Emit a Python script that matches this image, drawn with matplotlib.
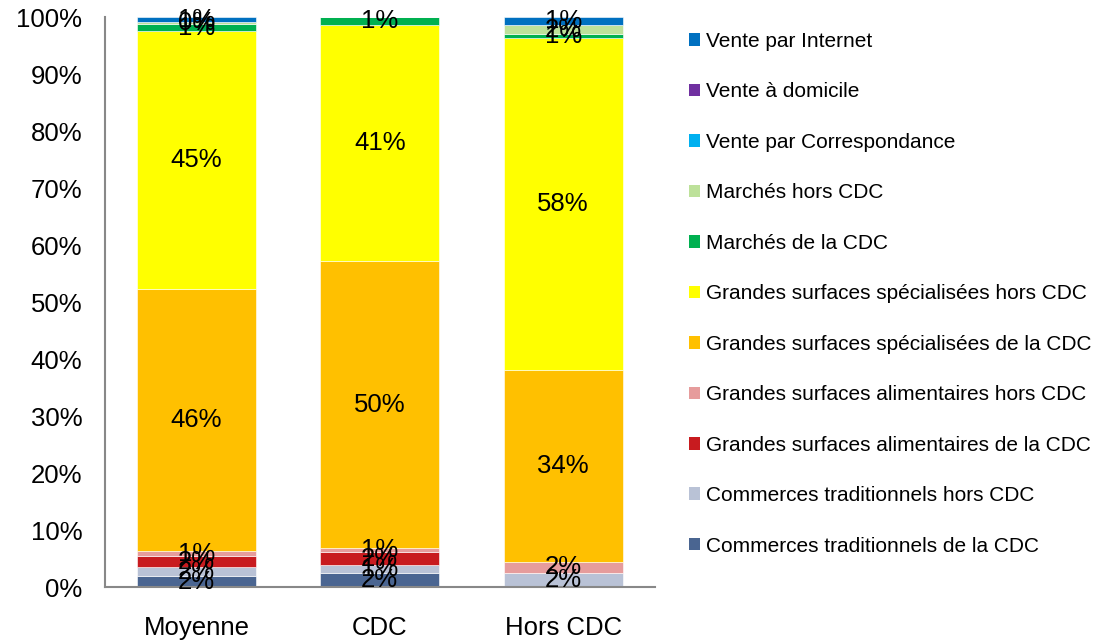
import numpy as np
import matplotlib
matplotlib.use("Agg")
import matplotlib.pyplot as plt
from matplotlib.patches import Patch

plt.rcParams['font.family'] = ['Liberation Sans', 'DejaVu Sans']

categories = ["Moyenne", "CDC", "Hors CDC"]

# parts de marché (%) par circuit, de bas en haut de la pile
trad_cdc = [1.9, 2.4, 0.0]
trad_hors = [1.6, 1.4, 2.5]
alim_cdc = [1.9, 2.4, 0.0]
alim_hors = [0.9, 0.6, 1.9]
spec_cdc = [45.9, 50.4, 33.6]
spec_hors = [45.4, 41.4, 58.4]
marches_cdc = [1.1, 1.4, 0.6]
marches_hors = [0.4, 0.0, 1.6]
vpc = [0.0, 0.0, 0.0]
domicile = [0.0, 0.0, 0.0]
internet = [0.9, 0.0, 1.4]

series_names = [
    "Commerces traditionnels de la CDC",
    "Commerces traditionnels hors CDC",
    "Grandes surfaces alimentaires de la CDC",
    "Grandes surfaces alimentaires hors CDC",
    "Grandes surfaces spécialisées de la CDC",
    "Grandes surfaces spécialisées hors CDC",
    "Marchés de la CDC",
    "Marchés hors CDC",
    "Vente par Correspondance",
    "Vente à domicile",
    "Vente par Internet",
]
series_values = [trad_cdc, trad_hors, alim_cdc, alim_hors, spec_cdc, spec_hors,
                 marches_cdc, marches_hors, vpc, domicile, internet]
colors = ["#4A6591", "#B9C2D6", "#C81B1F", "#E69C9C", "#FFC000", "#FFFF00",
          "#00B050", "#BDE19A", "#00B0F0", "#7030A0", "#0070C0"]

fig = plt.figure(figsize=(11.08, 6.4), dpi=100)
ax = fig.add_axes([0.0945, 0.0828, 0.4965, 0.8906])

x = np.arange(len(categories))
bottom = np.zeros(len(categories))
for name, vals, col in zip(series_names, series_values, colors):
    vals = np.array(vals)
    ax.bar(x, vals, 0.65, bottom=bottom, color=col, edgecolor="white",
           linewidth=0.4, label=name)
    for xi, v, b in zip(x, vals, bottom):
        if v > 0:
            ax.text(xi, b + v / 2, f"{v:.0f}%", ha="center", va="center",
                    fontsize=18.5, color="black")
    bottom += vals

ax.set_xlim(-0.5, 2.5)
ax.set_ylim(0, 100)
ax.set_yticks(np.arange(0, 101, 10))
ax.set_yticklabels([f"{t}%" for t in range(0, 101, 10)], fontsize=18.5)
ax.set_xticks(x)
ax.set_xticklabels(categories, fontsize=18.5)
ax.tick_params(axis="y", length=0, pad=16)
ax.tick_params(axis="x", length=0, pad=21)
for s in ["top", "right"]:
    ax.spines[s].set_visible(False)
for s in ["left", "bottom"]:
    ax.spines[s].set_color("#888888")
    ax.spines[s].set_linewidth(1.5)

handles = [Patch(facecolor=c) for c in colors][::-1]
fig.legend(handles, series_names[::-1], loc="upper left",
           bbox_to_anchor=(689 / 1108, 1 - 32 / 640), frameon=False,
           fontsize=15, labelspacing=1.51, handlelength=0.55, handleheight=0.55,
           handletextpad=0.25, borderpad=0, borderaxespad=0)

fig.savefig("out.png", dpi=100)
